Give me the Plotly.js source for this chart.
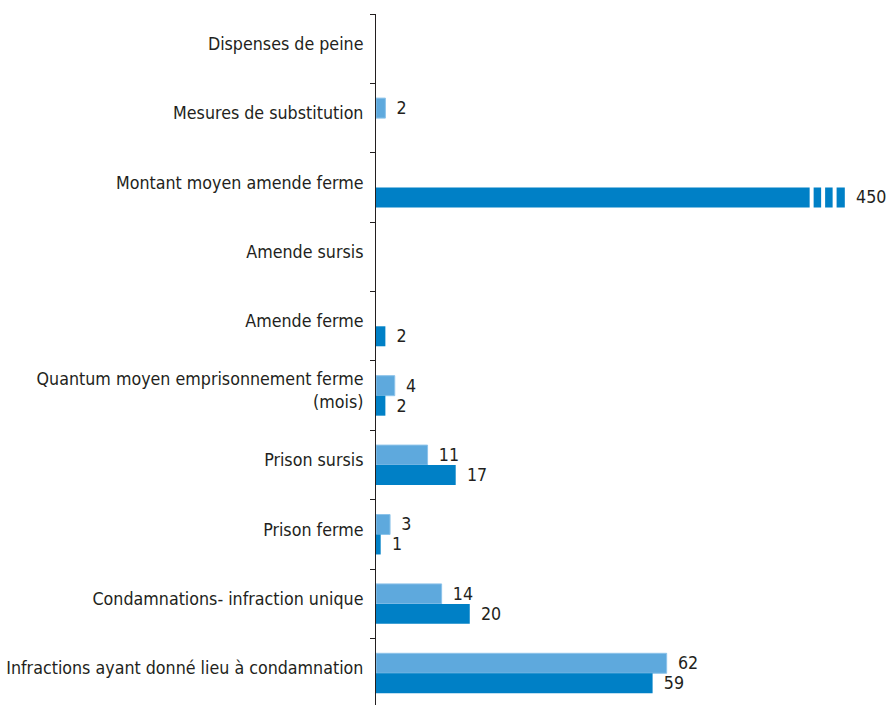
<!DOCTYPE html>
<html>
<head>
<meta charset="utf-8">
<script src="https://cdn.plot.ly/plotly-3.0.1.min.js"></script>
<style>
html,body{margin:0;padding:0;background:#fff;}
#chart{width:887px;height:705px;}
#chart text{font-stretch:condensed !important;}
</style>
</head>
<body>
<div id="chart"></div>
<script>
// Categories, top to bottom
const categories = [
  "Dispenses de peine",
  "Mesures de substitution",
  "Montant moyen amende ferme",
  "Amende sursis",
  "Amende ferme",
  "Quantum moyen emprisonnement ferme<br>(mois)",
  "Prison sursis",
  "Prison ferme",
  "Condamnations- infraction unique",
  "Infractions ayant donné lieu à condamnation"
];
const seriesLight = [null, 2, null, null, null, 4, 11, 3, 14, 62];
const seriesDark  = [null, null, 450, null, 2, 2, 17, 1, 20, 59];

// axis cap: values above it are drawn as a broken bar
const AXIS_CAP = 100;

const FONT = "'DejaVu Sans Condensed', 'DejaVu Sans', sans-serif";
const TXT = "#231f20";
const PAD = "\u00a0\u2009";

function capped(arr){ return arr.map(v => v == null ? null : Math.min(v, AXIS_CAP)); }

const traceLight = {
  type: "bar", orientation: "h", name: "Série 1",
  y: categories, x: capped(seriesLight),
  text: seriesLight.map(v => v == null ? "" : String(v)),
  texttemplate: PAD + "%{text}",
  textposition: "outside", cliponaxis: false, constraintext: "none",
  textfont: {family: FONT, size: 17.7, color: TXT},
  marker: {color: "#5ea9dd", line: {color: "#8cc3ea", width: 1}},
  hoverinfo: "skip"
};
const traceDark = {
  type: "bar", orientation: "h", name: "Série 2",
  y: categories, x: capped(seriesDark),
  text: seriesDark.map(v => v == null ? "" : String(v)),
  texttemplate: PAD + "%{text}",
  textposition: "outside", cliponaxis: false, constraintext: "none",
  textfont: {family: FONT, size: 17.7, color: TXT},
  marker: {color: "#0080c6", line: {width: 0}},
  hoverinfo: "skip"
};

// break marks (white gaps) on bars exceeding the cap
const shapes = [];
seriesDark.forEach((v, i) => {
  if (v != null && v > AXIS_CAP) {
    [0, 1, 2].forEach(k => {
      const x0 = AXIS_CAP - 7.5 + k * 2.45;
      shapes.push({type: "rect", xref: "x", yref: "y", x0: x0, x1: x0 + 0.85,
        y0: i - 0.5, y1: i + 0.5, fillcolor: "#ffffff", line: {width: 0}, layer: "above"});
    });
  }
});

const layout = {
  width: 887, height: 705,
  margin: {l: 376, r: 0, t: 14, b: 0, pad: 0},
  paper_bgcolor: "#ffffff", plot_bgcolor: "#ffffff",
  showlegend: false,
  barmode: "group", bargap: 0.424, bargroupgap: 0,
  font: {family: FONT, size: 17.7, color: TXT},
  xaxis: {visible: false, range: [0, 109], fixedrange: true},
  yaxis: {
    type: "category", range: [9.457, -0.5],
    showline: true, linecolor: TXT, linewidth: 1,
    ticks: "outside", ticklen: 5, tickcolor: TXT, tickwidth: 1,
    tickson: "boundaries", showgrid: false, zeroline: false,
    ticklabelstandoff: 8, ticklabelshift: 5,
    tickfont: {family: FONT, size: 17.7, color: TXT},
    fixedrange: true
  },
  shapes: shapes
};

Plotly.newPlot("chart", [traceLight, traceDark], layout, {displayModeBar: false, staticPlot: true});
</script>
</body>
</html>
